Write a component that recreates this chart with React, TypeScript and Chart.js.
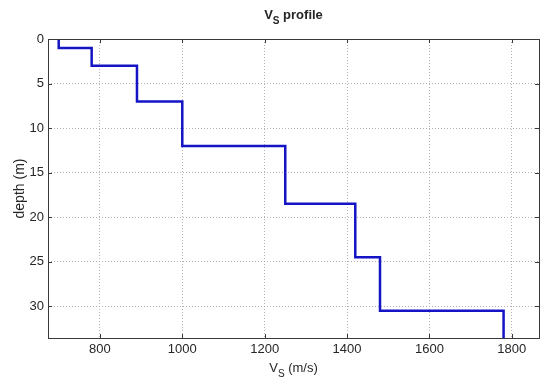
import React, { useEffect, useRef } from "react";
import { Chart, registerables } from "chart.js";

Chart.register(...registerables);

// Layer data
const layerTop: number[] = [0, 1, 3, 7, 12, 18.5, 24.5, 30.5];
const layerBottom: number[] = [1, 3, 7, 12, 18.5, 24.5, 30.5, 34];
const vsValues: number[] = [700, 780, 890, 1000, 1250, 1420, 1480, 1780];

const xTicks: number[] = [800, 1000, 1200, 1400, 1600, 1800];
const yTicks: number[] = [0, 5, 10, 15, 20, 25, 30];
const xMin = 674;
const xMax = 1866;
const yMin = 0;
const yMax = 33.55;

const FONT = "'Liberation Sans', Arial, Helvetica, sans-serif";
const TEXT = "#262626";

function subText(
  ctx: CanvasRenderingContext2D,
  parts: { t: string; sub?: boolean }[],
  cx: number,
  baseline: number,
  size: number,
  weight: string
) {
  const subSize = Math.round(size * 0.75);
  let total = 0;
  const widths = parts.map((p) => {
    ctx.font = `${weight} ${p.sub ? subSize : size}px ${FONT}`;
    const w = ctx.measureText(p.t).width;
    total += w;
    return w;
  });
  let x = cx - total / 2;
  ctx.textAlign = "left";
  ctx.textBaseline = "alphabetic";
  parts.forEach((p, i) => {
    ctx.font = `${weight} ${p.sub ? subSize : size}px ${FONT}`;
    ctx.fillText(p.t, x, baseline + (p.sub ? size * 0.35 : 0));
    x += widths[i];
  });
}

const framePlugin = {
  id: "matlabFrame",
  afterDraw(chart: any) {
    const { ctx, chartArea } = chart;
    const { left, right, top, bottom } = chartArea;
    const xs = chart.scales.x;
    const ys = chart.scales.y;
    ctx.save();
    // box
    ctx.strokeStyle = "#3a3a3a";
    ctx.lineWidth = 1;
    ctx.setLineDash([]);
    ctx.strokeRect(Math.round(left) + 0.5, Math.round(top) + 0.5, Math.round(right - left), Math.round(bottom - top));
    // inward ticks
    const tl = 4;
    ctx.beginPath();
    xTicks.forEach((v) => {
      const px = Math.round(xs.getPixelForValue(v)) + 0.5;
      ctx.moveTo(px, bottom);
      ctx.lineTo(px, bottom - tl);
      ctx.moveTo(px, top);
      ctx.lineTo(px, top + tl);
    });
    yTicks.forEach((v) => {
      const py = Math.round(ys.getPixelForValue(v)) + 0.5;
      ctx.moveTo(left, py);
      ctx.lineTo(left + tl, py);
      ctx.moveTo(right, py);
      ctx.lineTo(right - tl, py);
    });
    ctx.stroke();

    ctx.fillStyle = TEXT;
    const cx = (left + right) / 2;
    // title
    subText(ctx, [{ t: "V" }, { t: "S", sub: true }, { t: " profile" }], cx, 19, 13, "bold");
    // x label
    subText(ctx, [{ t: "V" }, { t: "S", sub: true }, { t: " (m/s)" }], cx, 372, 13, "normal");
    // y label
    ctx.save();
    ctx.translate(24, (top + bottom) / 2);
    ctx.rotate(-Math.PI / 2);
    ctx.font = `normal 14px ${FONT}`;
    ctx.textAlign = "center";
    ctx.textBaseline = "alphabetic";
    ctx.fillText("depth (m)", 0, 0);
    ctx.restore();
    ctx.restore();
  },
};

export default function App() {
  const ref = useRef<HTMLCanvasElement | null>(null);

  useEffect(() => {
    if (!ref.current) return;
    const points: { x: number; y: number }[] = [];
    vsValues.forEach((v, i) => {
      points.push({ x: v, y: layerTop[i] });
      points.push({ x: v, y: layerBottom[i] });
    });

    const chart = new Chart(ref.current, {
      type: "scatter",
      data: {
        datasets: [
          {
            label: "Vs",
            data: points,
            showLine: true,
            borderColor: "#1414c4",
            backgroundColor: "#1414c4",
            borderWidth: 2.5,
            pointRadius: 0,
            tension: 0,
          },
        ],
      },
      options: {
        responsive: false,
        animation: false,
        devicePixelRatio: 1,
        layout: { padding: { top: 39, right: 3, left: 0, bottom: 0 } },
        plugins: {
          legend: { display: false },
          tooltip: { enabled: false },
          title: { display: false },
        },
        scales: {
          x: {
            type: "linear",
            min: xMin,
            max: xMax,
            afterBuildTicks: (s: any) => {
              s.ticks = xTicks.map((v) => ({ value: v }));
            },
            afterFit: (s: any) => {
              s.height = 45;
            },
            ticks: {
              padding: 4,
              color: TEXT,
              font: { family: FONT, size: 13 },
              maxRotation: 0,
              callback: (v: any) => String(v),
            },
            grid: { color: "#b4b4b4", drawTicks: false, lineWidth: 1 },
            border: { display: false, dash: [1, 2] },
          },
          y: {
            type: "linear",
            reverse: true,
            min: yMin,
            max: yMax,
            afterBuildTicks: (s: any) => {
              s.ticks = yTicks.map((v) => ({ value: v }));
            },
            afterFit: (s: any) => {
              s.width = 48;
            },
            ticks: {
              padding: 4,
              color: TEXT,
              font: { family: FONT, size: 13 },
              callback: (v: any) => String(v),
            },
            grid: { color: "#b4b4b4", drawTicks: false, lineWidth: 1 },
            border: { display: false, dash: [1, 2] },
          },
        },
      },
      plugins: [framePlugin],
    });
    return () => chart.destroy();
  }, []);

  return (
    <div style={{ position: "fixed", left: 0, top: 0, width: 542, height: 383, background: "#fff" }}>
      <canvas ref={ref} width={542} height={383} style={{ display: "block" }} />
    </div>
  );
}
